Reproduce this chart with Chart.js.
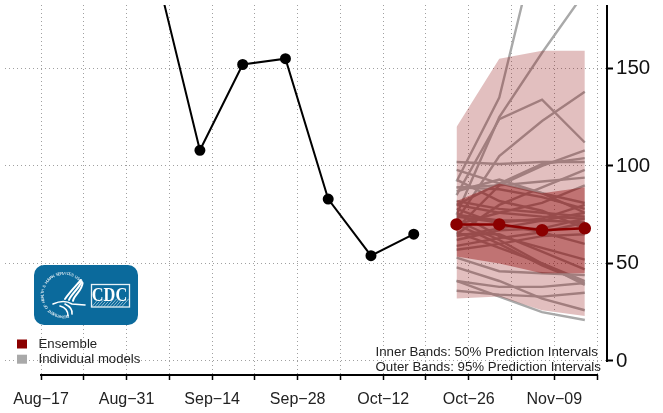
<!DOCTYPE html>
<html>
<head>
<meta charset="utf-8">
<style>
  html, body { margin: 0; padding: 0; background: #fff; }
  canvas { display: block; }
</style>
</head>
<body>
<canvas id="chartCanvas" width="663" height="413"></canvas>
<script src="https://cdn.jsdelivr.net/npm/chart.js@4/dist/chart.umd.min.js"></script>
<script>
// days counted from Aug-17
const tickDays = [0, 7, 14, 21, 28, 35, 42, 49, 56, 63, 70, 77, 84, 91];
const tickLabels = ['Aug\u221217', '', 'Aug\u221231', '', 'Sep\u221214', '', 'Sep\u221228', '', 'Oct\u221212', '', 'Oct\u221226', '', 'Nov\u221209', ''];
const yTicks = [0, 50, 100, 150];

const observedDays = [19, 26, 33, 40, 47, 54, 61];
const observedValues = [198, 108, 152, 155, 83, 54, 65];

const forecastDays = [68, 75, 82, 89];
const ensembleValues = [70, 70, 67, 68];
const outerUpper = [120, 155, 159, 159];
const outerLower = [32, 33, 26, 23];
const innerUpper = [82, 91, 86, 89];
const innerLower = [53.5, 50, 45, 45];

const modelForecasts = [
  [92, 135, 225, 320],
  [75, 125, 158, 189],
  [85, 124, 134, 112],
  [72, 105, 123, 138],
  [102, 101, 102, 102],
  [68, 90, 100, 108],
  [80, 91, 101, 104],
  [65, 80, 89, 98],
  [89, 90, 92, 94],
  [98, 91, 86, 81],
  [93, 82, 77, 68],
  [89, 88, 84, 78],
  [87, 93, 86, 76],
  [82, 78, 76, 74],
  [80, 76, 74, 73],
  [70, 76, 81, 90],
  [75, 72, 72, 71],
  [74, 71, 73, 80],
  [64, 68, 72, 76],
  [62, 67, 68, 73],
  [59, 63, 66, 71],
  [57, 60, 64, 65],
  [72, 62, 50, 41],
  [70, 60, 49, 40],
  [66, 58, 50, 39],
  [76, 64, 58, 52],
  [78, 70, 66, 60],
  [65, 65, 56, 47],
  [53, 46, 45, 44],
  [48, 41, 32, 26],
  [41, 38, 38, 40],
  [36, 34, 33, 35],
  [41, 33, 25, 21]
];

const legendItems = [
  { label: 'Ensemble', color: '#8b0000' },
  { label: 'Individual models', color: '#a9a9a9' }
];
const noteLines = ['Inner Bands: 50% Prediction Intervals', 'Outer Bands: 95% Prediction Intervals'];

const toPoints = (days, values) => days.map((d, i) => ({ x: d, y: values[i] }));

function bandDatasets(upper, lower, color, order) {
  return [
    { data: toPoints(forecastDays, upper), fill: '+1', backgroundColor: color, borderWidth: 0, pointRadius: 0, tension: 0, order },
    { data: toPoints(forecastDays, lower), fill: false, borderWidth: 0, pointRadius: 0, tension: 0, order }
  ];
}

const datasets = [
  ...bandDatasets(outerUpper, outerLower, 'rgba(139,0,0,0.25)', 10),
  ...bandDatasets(innerUpper, innerLower, 'rgba(139,0,0,0.4)', 9),
  ...modelForecasts.map(values => ({
    data: toPoints(forecastDays, values),
    borderColor: '#a9a9a9',
    borderWidth: 2.4,
    pointRadius: 0,
    fill: false,
    order: 20
  })),
  {
    label: 'Observed',
    data: toPoints(observedDays, observedValues),
    borderColor: '#000',
    backgroundColor: '#000',
    borderWidth: 2,
    pointRadius: 4.5,
    pointHoverRadius: 4.5,
    fill: false,
    order: 2
  },
  {
    label: 'Ensemble',
    data: toPoints(forecastDays, ensembleValues),
    borderColor: '#8b0000',
    backgroundColor: '#8b0000',
    borderWidth: 2.5,
    pointRadius: 5,
    pointHoverRadius: 5,
    fill: false,
    order: 1
  }
];

function drawLogo(ctx) {
  ctx.save();
  ctx.fillStyle = '#0b6a9c';
  ctx.beginPath();
  ctx.roundRect(34, 265, 104, 60, 10);
  ctx.fill();

  // seal lettering round the eagle
  const seal = 'DEPARTMENT OF HEALTH & HUMAN SERVICES USA';
  ctx.fillStyle = '#fff';
  ctx.font = '4px "Liberation Sans"';
  ctx.textAlign = 'center';
  ctx.textBaseline = 'middle';
  [...seal].forEach((ch, i) => {
    const a = 1.4 + i * 0.103;
    ctx.save();
    ctx.translate(64 + Math.cos(a) * 21.5, 295 + Math.sin(a) * 21.5);
    ctx.rotate(a + Math.PI / 2);
    ctx.fillText(ch, 0, 0);
    ctx.restore();
  });

  // eagle
  ctx.strokeStyle = '#fff';
  ctx.lineCap = 'round';
  ctx.lineWidth = 2;
  [[0, 0], [4, 1.5], [8, 3]].forEach(([dx, dy]) => {
    ctx.beginPath();
    ctx.moveTo(81 + dx * 0.2, 280 + dy);
    ctx.bezierCurveTo(74 + dx, 288 + dy, 70 + dx * 0.5, 292 + dy, 65 + dx, 299 + dy * 0.6);
    ctx.stroke();
  });
  ctx.lineWidth = 1.6;
  ctx.beginPath();
  ctx.moveTo(53, 304);
  ctx.quadraticCurveTo(64, 299, 72, 304);
  ctx.lineTo(85, 305);
  ctx.moveTo(60, 306);
  ctx.quadraticCurveTo(68, 308, 68, 316);
  ctx.moveTo(65, 304);
  ctx.quadraticCurveTo(73, 308, 72, 314);
  ctx.stroke();

  // CDC box
  ctx.strokeStyle = '#e8f1f6';
  ctx.lineWidth = 1.3;
  ctx.strokeRect(91.5, 284.5, 38, 22.5);
  ctx.beginPath();
  for (let i = 0; i < 11; i++) {
    ctx.moveTo(92 + i * 3, 306.5);
    ctx.lineTo(98.5 + i * 3, 299);
  }
  ctx.lineWidth = 0.6;
  ctx.stroke();
  ctx.fillStyle = '#fff';
  ctx.strokeStyle = '#0b6a9c';
  ctx.lineWidth = 1;
  ctx.font = 'bold 19px "Liberation Serif"';
  ctx.textBaseline = 'alphabetic';
  ctx.translate(109.5, 300.5);
  ctx.scale(0.86, 1.02);
  ctx.strokeText('CDC', 0, 0);
  ctx.fillText('CDC', 0, 0);
  ctx.restore();
}

const decorations = {
  id: 'decorations',
  afterDraw(chart) {
    const { ctx, scales } = chart;
    const { x, y } = scales;
    ctx.save();
    ctx.strokeStyle = '#000';
    ctx.lineCap = 'square';
    ctx.lineWidth = 2;
    ctx.beginPath();
    ctx.moveTo(chart.chartArea.right, y.getPixelForValue(0));
    ctx.lineTo(chart.chartArea.right, chart.chartArea.top + 1);
    ctx.stroke();
    ctx.beginPath();
    ctx.moveTo(x.getPixelForValue(tickDays[0]), chart.chartArea.bottom);
    ctx.lineTo(x.getPixelForValue(tickDays[tickDays.length - 1]), chart.chartArea.bottom);
    ctx.stroke();
    ctx.restore();

    drawLogo(ctx);

    ctx.save();
    ctx.textAlign = 'left';
    ctx.textBaseline = 'middle';
    ctx.font = '13.2px "Liberation Sans"';
    legendItems.forEach((item, i) => {
      const cy = 344 + i * 15.2;
      ctx.fillStyle = item.color;
      ctx.fillRect(17, cy - 4.5, 10, 9);
      ctx.fillStyle = '#222';
      ctx.fillText(item.label, 38.5, cy);
    });
    ctx.font = '13.3px "Liberation Sans"';
    noteLines.forEach((line, i) => {
      ctx.fillText(line, 375.5, 352.5 + i * 15);
    });
    ctx.restore();
  }
};

new Chart(document.getElementById('chartCanvas').getContext('2d'), {
  type: 'line',
  data: { datasets },
  plugins: [decorations],
  options: {
    responsive: false,
    animation: false,
    layout: { autoPadding: false, padding: { left: 5, top: 5, right: 0, bottom: 0 } },
    plugins: {
      legend: { display: false },
      title: { display: false },
      tooltip: { enabled: false }
    },
    scales: {
      x: {
        type: 'linear',
        min: -5.9,
        max: 92.63,
        afterBuildTicks(scale) {
          scale.ticks = tickDays.map(value => ({ value }));
        },
        afterFit(scale) {
          scale.height = 38;
          scale.paddingLeft = 0;
          scale.paddingRight = 0;
        },
        grid: {
          color: '#a0a0a0',
          lineWidth: 1,
          drawTicks: true,
          tickLength: 5,
          tickColor: '#000',
          tickWidth: 1.5,
          tickBorderDash: []
        },
        border: { display: false, dash: [1, 3] },
        ticks: {
          autoSkip: false,
          maxRotation: 0,
          padding: 10,
          color: '#222',
          font: { family: '"Liberation Sans"', size: 16 },
          callback(value) {
            return tickLabels[tickDays.indexOf(value)];
          }
        }
      },
      y: {
        type: 'linear',
        position: 'right',
        min: -7.2,
        max: 182.5,
        afterBuildTicks(scale) {
          scale.ticks = yTicks.map(value => ({ value }));
        },
        afterFit(scale) {
          scale.width = 56;
          scale.paddingTop = 0;
          scale.paddingBottom = 0;
        },
        grid: {
          color: '#a0a0a0',
          lineWidth: 1,
          tickLength: 6,
          tickColor: '#000',
          tickWidth: 2,
          tickBorderDash: []
        },
        border: { display: false, dash: [1, 3] },
        ticks: {
          padding: 3,
          color: '#111',
          font: { family: '"Liberation Sans"', size: 20.5 }
        }
      }
    }
  }
});
</script>
</body>
</html>
